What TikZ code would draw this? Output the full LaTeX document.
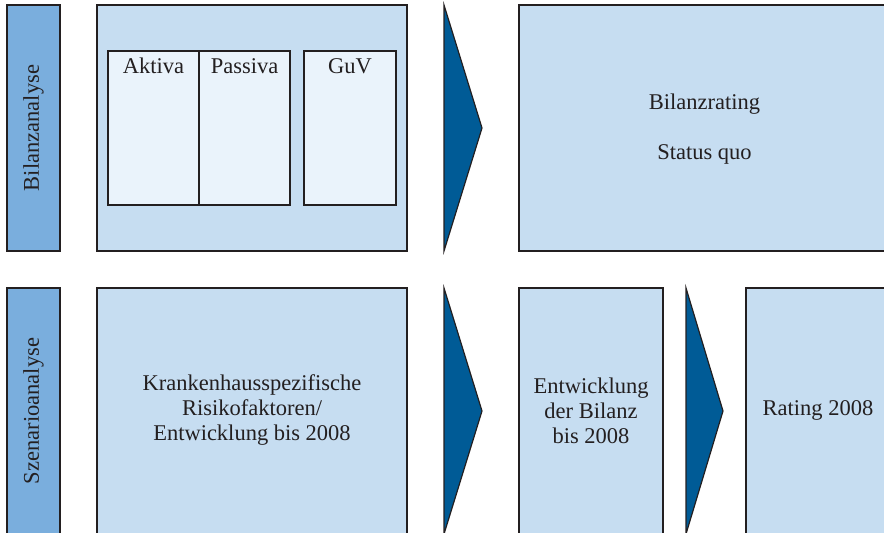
\documentclass[tikz,border=0pt]{standalone}
\usepackage{fontspec}
\setmainfont{Liberation Serif}
\newfontfamily\diagserif{Liberation Serif}
\definecolor{labelblue}{HTML}{7AAEDD}
\definecolor{boxblue}{HTML}{C6DDF1}
\definecolor{innerblue}{HTML}{EAF3FB}
\definecolor{arrowblue}{HTML}{005B96}
\definecolor{edgedark}{HTML}{231F20}
\begin{document}
\begin{tikzpicture}[x=1pt,y=-1pt,
  every node/.style={font=\diagserif\fontsize{22.5}{25}\selectfont, text=edgedark, inner sep=0pt, outer sep=0pt},
  lbl/.style={draw=edgedark, line width=1.6pt, fill=labelblue, anchor=north west},
  bigbox/.style={draw=edgedark, line width=1.6pt, fill=boxblue, anchor=north west, align=center},
  innerbox/.style={draw=edgedark, line width=1.6pt, fill=innerblue, anchor=north west},
  chevron/.style={draw=edgedark, line width=1.2pt, fill=arrowblue, line join=miter}]
\useasboundingbox (0,0) rectangle (884,533);
% top row
\node[lbl, minimum width=53pt, minimum height=246pt] (lab1) at (7,5) {};
\node[rotate=90] (lab1t) at (lab1.center) {Bilanzanalyse};
\node[bigbox, minimum width=310pt, minimum height=246pt] (bil) at (97,5) {};
\node[innerbox, minimum width=91pt, minimum height=154pt] (akt) at (108,51) {};
\node[innerbox, minimum width=91pt, minimum height=154pt] (pas) at (199,51) {};
\node[innerbox, minimum width=92pt, minimum height=154pt] (guv) at (304,51) {};
\node[anchor=base] (aktt) at (akt.center |- 0,73) {Aktiva};
\node[anchor=base] (past) at (pas.center |- 0,73) {Passiva};
\node[anchor=base] (guvt) at (guv.center |- 0,73) {GuV};
\draw[chevron] (444,5) coordinate (c1a) -- (482,128) coordinate (c1b) -- (444,251) coordinate (c1c) -- cycle;
\node[bigbox, minimum width=371pt, minimum height=246pt] (rat1) at (519,5) {};
\node[anchor=base] (rat1a) at (rat1.center |- 0,109) {Bilanzrating};
\node[anchor=base] (rat1b) at (rat1.center |- 0,159) {Status quo};
% bottom row
\node[lbl, minimum width=53pt, minimum height=250pt] (lab2) at (7,288) {};
\node[rotate=90] (lab2t) at (33.5,411) {Szenarioanalyse};
\node[bigbox, minimum width=310pt, minimum height=250pt] (risk) at (97,288) {};
\node[align=center] (riskt) at (252,410) {Krankenhausspezifische\\Risikofaktoren/\\Entwicklung bis 2008};
\draw[chevron] (444,288) coordinate (c2a) -- (482,411) coordinate (c2b) -- (444,534) coordinate (c2c) -- cycle;
\node[bigbox, minimum width=144pt, minimum height=250pt] (entw) at (519,288) {};
\node[align=center] (entwt) at (591,411) {Entwicklung\\der Bilanz\\bis 2008};
\draw[chevron] (686,288) coordinate (c3a) -- (723,411) coordinate (c3b) -- (686,534) coordinate (c3c) -- cycle;
\node[bigbox, minimum width=144pt, minimum height=250pt] (rat2) at (746,288) {};
\node (rat2t) at (818,410) {Rating 2008};
\end{tikzpicture}
\end{document}
